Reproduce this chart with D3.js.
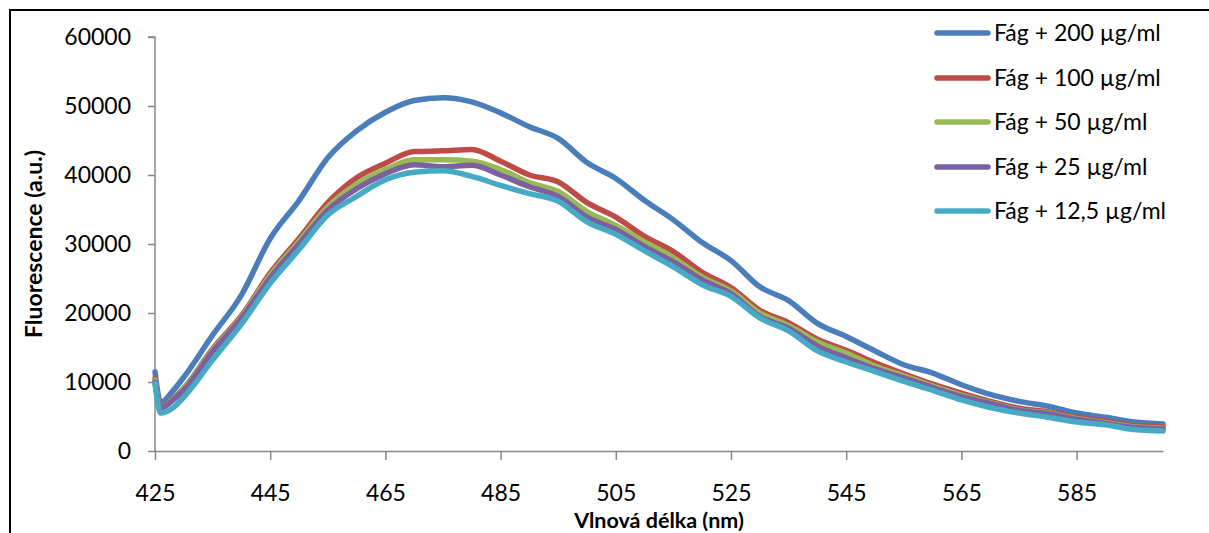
<!DOCTYPE html>
<html>
<head>
<meta charset="utf-8">
<script src="https://cdn.jsdelivr.net/npm/d3@7"></script>
<style>
  html, body { margin: 0; padding: 0; background: #fff; }
  svg { display: block; }
  text { font-family: Lato, "Open Sans", sans-serif; fill: #000; }
</style>
</head>
<body>
<svg id="chart" width="1209" height="533"></svg>
<script>
const wavelengths = [425, 426, 428, 430, 435, 440, 445, 450, 455, 460, 465, 470, 475, 480, 485, 490, 495, 500, 505, 510, 515, 520, 525, 530, 535, 540, 545, 550, 555, 560, 565, 570, 575, 580, 585, 590, 595, 600];

const fag200 = [11500, 7000, 8600, 10700, 16800, 22600, 30800, 36300, 42500, 46400, 49100, 50800, 51200, 50600, 49000, 47000, 45300, 41800, 39500, 36300, 33500, 30200, 27600, 23800, 21800, 18500, 16600, 14500, 12500, 11300, 9600, 8200, 7200, 6500, 5500, 4900, 4200, 3900];
const fag100 = [10500, 6400, 7500, 9100, 14800, 19600, 25800, 30800, 36000, 39600, 41700, 43400, 43500, 43700, 42000, 40000, 39000, 36000, 33900, 31100, 28900, 25900, 23700, 20400, 18600, 16200, 14600, 12800, 11200, 9700, 8400, 7200, 6200, 5700, 4900, 4300, 3700, 3500];
const fag50 = [10300, 6300, 7400, 9000, 14600, 19400, 25500, 30400, 35400, 38700, 40800, 42200, 42200, 42000, 40800, 38900, 37600, 34700, 32700, 30300, 28000, 25200, 23200, 20000, 18200, 15800, 14200, 12300, 10900, 9400, 8100, 7000, 6000, 5500, 4700, 4100, 3500, 3300];
const fag25 = [10000, 6200, 7300, 8800, 14400, 19200, 25100, 30000, 34900, 38000, 40200, 41500, 41200, 41400, 40000, 38300, 36900, 33900, 32100, 29600, 27400, 24800, 22800, 19500, 17800, 15200, 13500, 11900, 10600, 9200, 7900, 6900, 5900, 5400, 4600, 4000, 3400, 3200];
const fag12 = [9800, 5500, 6200, 7800, 13200, 18400, 24300, 29200, 34200, 36900, 39300, 40400, 40600, 39800, 38500, 37300, 36200, 33200, 31400, 29000, 26700, 24100, 22400, 19300, 17400, 14500, 12900, 11500, 10100, 8800, 7400, 6300, 5500, 4900, 4200, 3800, 3100, 2900];

const seriesNames = ["Fág + 200 µg/ml", "Fág + 100 µg/ml", "Fág + 50 µg/ml", "Fág + 25 µg/ml", "Fág + 12,5 µg/ml"];
const seriesValues = [fag200, fag100, fag50, fag25, fag12];
const seriesColors = ["#4A7EBB", "#BE4B48", "#98B954", "#7D60A0", "#46AAC5"];

const xTicks = [425, 445, 465, 485, 505, 525, 545, 565, 585];
const yTicks = [0, 10000, 20000, 30000, 40000, 50000, 60000];
const xTitle = "Vlnová délka (nm)";
const yTitle = "Fluorescence (a.u.)";

const svg = d3.select("#chart");
const plot = { left: 155, right: 1163, top: 37, bottom: 451 };

// chart border (cropped at right/bottom)
svg.append("rect")
  .attr("x", 10).attr("y", 10).attr("width", 1300).attr("height", 600)
  .attr("fill", "none").attr("stroke", "#000").attr("stroke-width", 2);

const x = d3.scaleLinear().domain([425, 600]).range([plot.left, plot.right]);
const y = d3.scaleLinear().domain([0, 60000]).range([plot.bottom, plot.top]);

const axisColor = "#868686";

const yAxis = svg.append("g")
  .attr("transform", `translate(${plot.left},0)`)
  .call(d3.axisLeft(y).tickValues(yTicks).tickSize(7).tickPadding(17).tickFormat(d3.format("d")));
const xAxis = svg.append("g")
  .attr("transform", `translate(0,${plot.bottom})`)
  .call(d3.axisBottom(x).tickValues(xTicks).tickSize(9).tickSizeOuter(0).tickFormat(d3.format("d")));

[yAxis, xAxis].forEach(g => {
  g.select(".domain").attr("stroke", axisColor).attr("stroke-width", 1.5);
  g.selectAll(".tick line").attr("stroke", axisColor).attr("stroke-width", 1.5);
  g.selectAll(".tick text").attr("font-size", 23).attr("fill", "#000")
    .style("font-family", "Lato, 'Open Sans', sans-serif");
});
yAxis.select(".domain").attr("d", `M-7,${plot.top}H0V${plot.bottom}`);
xAxis.selectAll(".tick text").attr("y", 50).attr("dy", 0);

// lines
const line = d3.line()
  .x((d, i) => x(wavelengths[i]))
  .y(d => y(d))
  .curve(d3.curveMonotoneX);

seriesValues.forEach((vals, k) => {
  svg.append("path")
    .datum(vals)
    .attr("d", line)
    .attr("fill", "none")
    .attr("stroke", seriesColors[k])
    .attr("stroke-width", 5.5)
    .attr("stroke-linejoin", "round")
    .attr("stroke-linecap", "round");
});

// axis titles
svg.append("text")
  .attr("x", (plot.left + plot.right) / 2).attr("y", 528)
  .attr("text-anchor", "middle").attr("font-weight", "bold").attr("font-size", 21.5)
  .text(xTitle);
svg.append("text")
  .attr("transform", `translate(42,${(plot.top + plot.bottom) / 2}) rotate(-90)`)
  .attr("text-anchor", "middle").attr("font-weight", "bold").attr("font-size", 23)
  .text(yTitle);

// legend
const legendY = [33, 78, 122, 167, 211];
const legend = svg.append("g");
seriesNames.forEach((name, k) => {
  legend.append("line")
    .attr("x1", 937).attr("x2", 988)
    .attr("y1", legendY[k]).attr("y2", legendY[k])
    .attr("stroke", seriesColors[k]).attr("stroke-width", 5.5).attr("stroke-linecap", "round");
  legend.append("text")
    .attr("x", 994).attr("y", legendY[k]).attr("dy", "0.35em")
    .attr("font-size", 23)
    .text(name);
});
</script>
</body>
</html>
